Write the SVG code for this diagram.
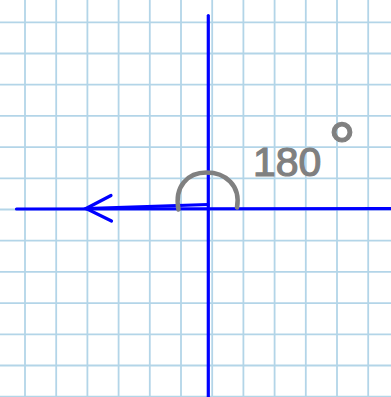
<svg xmlns="http://www.w3.org/2000/svg" width="391" height="397" viewBox="0 0 391 397">
<style>
.grid line{stroke:#b3d5e8;stroke-width:1.8}
.axis{stroke:#0000ff;stroke-width:3.2;fill:none;stroke-linecap:round}
.pen{stroke:#808080;stroke-width:4.5;fill:none;stroke-linecap:round}
.label{font-family:"Liberation Sans",Arial,sans-serif;fill:#808080;stroke:#808080;stroke-width:1.2}
</style>
<rect width="391" height="397" fill="#ffffff"/>
<g class="grid" id="grid">
<line x1="25" y1="0" x2="25" y2="397"/>
<line x1="56.2" y1="0" x2="56.2" y2="397"/>
<line x1="87.4" y1="0" x2="87.4" y2="397"/>
<line x1="118.6" y1="0" x2="118.6" y2="397"/>
<line x1="149.8" y1="0" x2="149.8" y2="397"/>
<line x1="181" y1="0" x2="181" y2="397"/>
<line x1="212.2" y1="0" x2="212.2" y2="397"/>
<line x1="243.4" y1="0" x2="243.4" y2="397"/>
<line x1="274.6" y1="0" x2="274.6" y2="397"/>
<line x1="305.8" y1="0" x2="305.8" y2="397"/>
<line x1="337" y1="0" x2="337" y2="397"/>
<line x1="368.2" y1="0" x2="368.2" y2="397"/>
<line x1="0" y1="22.3" x2="391" y2="22.3"/>
<line x1="0" y1="53.5" x2="391" y2="53.5"/>
<line x1="0" y1="84.7" x2="391" y2="84.7"/>
<line x1="0" y1="115.9" x2="391" y2="115.9"/>
<line x1="0" y1="147.1" x2="391" y2="147.1"/>
<line x1="0" y1="178.3" x2="391" y2="178.3"/>
<line x1="0" y1="209.5" x2="391" y2="209.5"/>
<line x1="0" y1="240.7" x2="391" y2="240.7"/>
<line x1="0" y1="271.9" x2="391" y2="271.9"/>
<line x1="0" y1="303.1" x2="391" y2="303.1"/>
<line x1="0" y1="334.3" x2="391" y2="334.3"/>
<line x1="0" y1="365.5" x2="391" y2="365.5"/>
<line x1="0" y1="396.7" x2="391" y2="396.7"/>
</g>
<g id="axes">
<line class="axis" x1="208.3" y1="15.5" x2="208.3" y2="400"/>
<line class="axis" x1="16.5" y1="209" x2="395" y2="208.7"/>
</g>
<g id="connectors">
<path class="axis" d="M208,204.5 L86,208.6"/>
<path class="axis" d="M111,195.5 L86,208.5 L111.5,221"/>
</g>
<g id="angle">
<path class="pen" d="M178.5,209.5 C174,186 188,172.5 206.5,172.5 C225,172.5 241,185 237,207.5"/>
<text class="label" x="253" y="176" font-size="41">180</text>
<text class="label" x="328" y="172" font-size="70" stroke-width="2.2">°</text>
</g>
</svg>
